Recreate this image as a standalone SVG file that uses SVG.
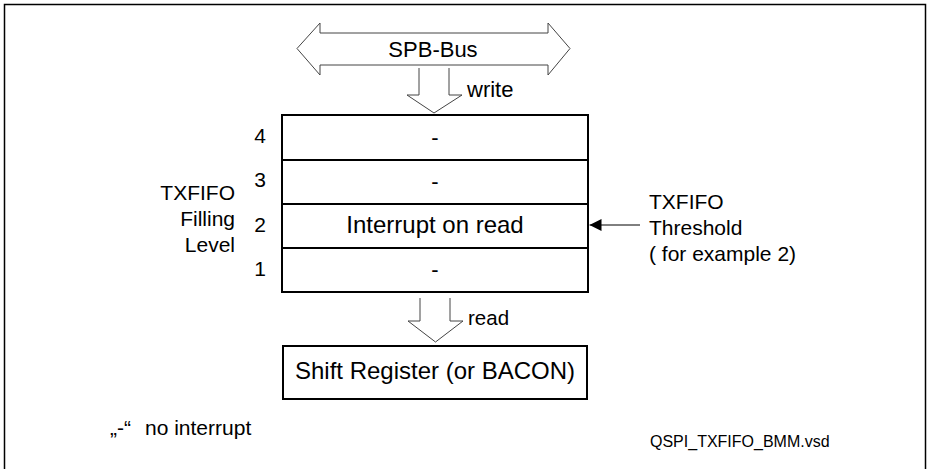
<svg xmlns="http://www.w3.org/2000/svg" width="927" height="469" viewBox="0 0 927 469">
<style>
text{font-family:"Liberation Sans",Arial,sans-serif;fill:#000}
.lbl{font-size:21px}
.main{font-size:24px;text-anchor:middle}
.box{fill:#fff;stroke:#000;stroke-width:2}
.ol{fill:#fff;stroke:#444;stroke-width:1}
</style>
<defs>
<marker id="ah" viewBox="0 0 12 12" refX="12" refY="6" markerWidth="12" markerHeight="12" markerUnits="userSpaceOnUse" orient="auto">
<path d="M0,0 L12,6 L0,12 Z" fill="#000"/>
</marker>
</defs>
<rect x="4.5" y="4.5" width="921" height="470" fill="none" stroke="#000" stroke-width="1.5"/>
<g id="spb-bus">
<path class="ol" d="M297,48.5 L320,23 L320,33 L548,33 L548,23 L570,48.5 L548,75 L548,65 L320,65 L320,75 Z"/>
<text x="433" y="57" class="lbl" style="font-size:22px" text-anchor="middle">SPB-Bus</text>
</g>
<g id="fifo">
<rect class="box" x="282" y="115" width="306" height="177"/>
<line x1="282" y1="160" x2="588" y2="160" stroke="#000" stroke-width="2"/>
<line x1="282" y1="204" x2="588" y2="204" stroke="#000" stroke-width="2"/>
<line x1="282" y1="248" x2="588" y2="248" stroke="#000" stroke-width="2"/>
<text x="435" y="145" class="main" style="font-size:22px">-</text>
<text x="435" y="189" class="main" style="font-size:22px">-</text>
<text x="435" y="233" class="main">Interrupt on read</text>
<text x="435" y="277" class="main" style="font-size:22px">-</text>
</g>
<g id="levels" class="lbl">
<text x="260" y="143" text-anchor="middle">4</text>
<text x="260" y="187" text-anchor="middle">3</text>
<text x="260" y="232" text-anchor="middle">2</text>
<text x="260" y="276" text-anchor="middle">1</text>
</g>
<g id="fill-label" class="lbl">
<text x="235" y="200" text-anchor="end">TXFIFO</text>
<text x="235" y="226" text-anchor="end">Filling</text>
<text x="235" y="252" text-anchor="end">Level</text>
</g>
<g id="threshold-label" class="lbl">
<text x="649" y="209">TXFIFO</text>
<text x="649" y="235">Threshold</text>
<text x="649" y="261">( for example 2)</text>
</g>
<g id="shift-register">
<rect class="box" x="283" y="346" width="304" height="53"/>
<text x="435" y="379" class="main">Shift Register (or BACON)</text>
</g>
<g id="connectors">
<path class="ol" d="M419,68 L419,95 L407,95 L434,113 L462,95 L449,95 L449,68"/>
<text x="467" y="97" class="lbl" style="font-size:22px">write</text>
<path class="ol" d="M420,298 L420,321 L408,321 L435.5,342 L463,321 L450,321 L450,298"/>
<text x="468" y="325" class="lbl" style="font-size:20.5px">read</text>
<line x1="640" y1="225" x2="589.5" y2="225" stroke="#000" stroke-width="1" marker-end="url(#ah)"/>
</g>
<g id="notes">
<text x="110" y="435" class="lbl">„-“<tspan x="145">no interrupt</tspan></text>
<text x="650" y="447" style="font-size:16px">QSPI_TXFIFO_BMM.vsd</text>
</g>
</svg>
